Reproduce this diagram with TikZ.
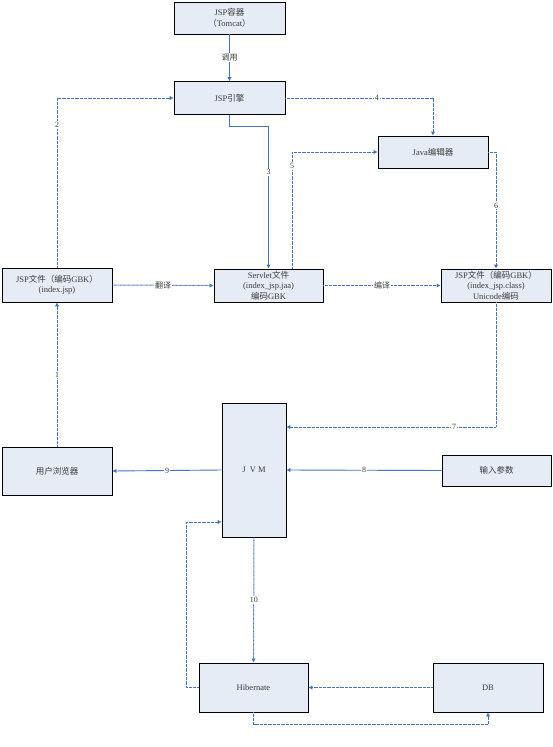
\documentclass[tikz,border=0pt]{standalone}
\usepackage{fontspec}
\setmainfont{Liberation Serif}
\newfontfamily\cjk{Noto Sans CJK SC}
\newcommand{\zh}[1]{{\cjk #1}}
\usetikzlibrary{arrows.meta}
\definecolor{boxfill}{HTML}{E6ECF6}
\definecolor{lnc}{HTML}{4472C4}
\definecolor{txt}{HTML}{3A3A3A}
\begin{document}
\begin{tikzpicture}[x=1pt,y=-1pt,
  box/.style={draw=black,line width=0.8pt,fill=boxfill,inner sep=0pt,align=center,text=txt,
    font=\fontsize{8.5}{10.5}\selectfont},
  ln/.style={draw=lnc,line width=0.9pt,-{Latex[length=4pt,width=4.5pt]}},
  dl/.style={ln,line width=1pt,dash pattern=on 0.8pt off 0.5pt},
  lbl/.style={fill=white,inner sep=1pt,text=txt,font=\fontsize{8}{9}\selectfont}]
\useasboundingbox (0,0) rectangle (553,747);
\node[box,minimum width=111pt,minimum height=32pt] (cont) at (229.5,18) {JSP\zh{容器}\\\zh{（}Tomcat\zh{）}};
\node[box,minimum width=111pt,minimum height=33pt] (eng) at (229.5,98) {JSP\zh{引擎}};
\node[box,minimum width=110pt,minimum height=32pt] (javac) at (433,152) {Java\zh{编辑器}};
\node[box,minimum width=110pt,minimum height=34pt] (jsp) at (57,285) {JSP\zh{文件（编码}GBK\zh{）}\\(index.jsp)};
\node[box,minimum width=109pt,minimum height=33pt] (serv) at (268.5,285.5) {Servlet\zh{文件}\\(index\_jsp.jaa)\\\zh{编码}GBK};
\node[box,minimum width=110pt,minimum height=33pt] (cls) at (496,285.5) {JSP\zh{文件（编码}GBK\zh{）}\\(index\_jsp.class)\\Unicode\zh{编码}};
\node[box,minimum width=110pt,minimum height=48pt] (brow) at (57,471) {\zh{用户浏览器}};
\node[box,minimum width=64pt,minimum height=134pt] (jvm) at (254,470) {J\ \ V\ M};
\node[box,minimum width=109pt,minimum height=31pt] (inp) at (496.5,470.5) {\zh{输入参数}};
\node[box,minimum width=109pt,minimum height=49pt] (hib) at (253.5,687.5) {Hibernate};
\node[box,minimum width=110pt,minimum height=49pt] (db) at (488,687.5) {DB};

\draw[ln] (cont.south) -- (eng.north) node[midway,lbl]{\zh{调用}};
\draw[dl] (jsp.north) |- (eng.west) node[pos=0.42,lbl]{2};
\draw[ln] (eng.south) -- ++(0,12) -| (serv.north) node[pos=0.66,lbl]{3};
\draw[dl] (eng.east) -| (javac.north) node[pos=0.31,lbl]{4};
\draw[dl] ([xshift=23.5pt]serv.north) |- (javac.west) node[pos=0.44,lbl]{5};
\draw[dl] (javac.east) -| (cls.north) node[pos=0.73,lbl]{6};
\draw[dl] (jsp.east) -- (serv.west) node[midway,lbl]{\zh{翻译}};
\draw[dl] (serv.east) -- (cls.west) node[midway,lbl]{\zh{编译}};
\draw[dl] (cls.south) |- ([yshift=43pt]jvm.east) node[pos=0.6,lbl]{7};
\draw[ln] (inp.west) -- (jvm.east) node[midway,lbl]{8};
\draw[ln] (jvm.west) -- (brow.east) node[midway,lbl]{9};
\draw[dl] (brow.north) -- (jsp.south) node[midway,lbl]{1};
\draw[dl] (jvm.south) -- (hib.north) node[midway,lbl]{10};
\draw[dl] (hib.west) -- ++(-12,0) |- ([yshift=-52pt]jvm.west);
\draw[dl] (db.west) -- (hib.east);
\draw[dl] (hib.south) -- ++(0,12) -| (db.south);
\end{tikzpicture}
\end{document}
